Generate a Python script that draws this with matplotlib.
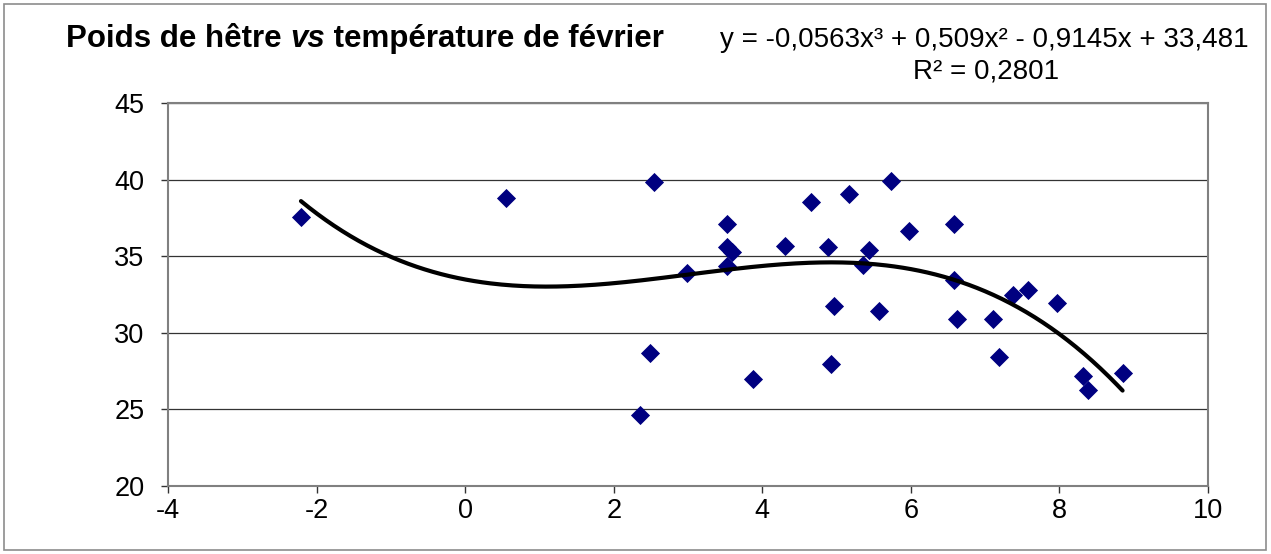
import numpy as np
import matplotlib.pyplot as plt
from matplotlib.patches import Rectangle

plt.rcParams['font.family'] = ['Liberation Sans', 'DejaVu Sans']

# February temperature vs beech weight
temp = [-2.21, 0.55, 2.54, 3.53, 3.53, 3.59, 3.53, 2.98, 4.31, 4.65, 5.17,
        5.73, 4.88, 5.44, 5.36, 5.98, 4.97, 5.57, 2.49, 4.93, 3.88, 2.35,
        6.58, 6.58, 6.62, 7.11, 7.37, 7.58, 7.97, 7.19, 8.32, 8.38, 8.85]
poids = [37.53, 38.81, 39.83, 37.13, 35.61, 35.26, 34.37, 33.89, 35.64, 38.53, 39.05,
         39.90, 35.59, 35.39, 34.44, 36.63, 31.76, 31.44, 28.66, 27.98, 27.00, 24.65,
         37.11, 33.44, 30.91, 30.89, 32.44, 32.77, 31.94, 28.41, 27.16, 26.28, 27.37]

# polynomial trend (order 3) as given on the chart
coefs = [-0.0563, 0.509, -0.9145, 33.481]
r2 = 0.2801

W, H = 1271, 554
fig = plt.figure(figsize=(W / 100, H / 100), dpi=100)
ax = fig.add_axes([168 / W, 1 - 486 / H, (1208 - 168) / W, (486 - 103) / H])

# outer chart border
fig.patches.append(Rectangle((4 / W, 4 / H), 1262 / W, 546 / H,
                             transform=fig.transFigure, fill=False,
                             edgecolor='#8c8c8c', linewidth=1.2))

ax.set_axisbelow(True)
ax.grid(axis='y', color='#333333', linewidth=0.9)

ax.scatter(temp, poids, marker='D', s=95, color='#000080', zorder=3, linewidths=0)

xs = np.linspace(min(temp), max(temp), 300)
ax.plot(xs, np.polyval(coefs, xs), color='black', linewidth=3.0,
        solid_capstyle='round', zorder=4)

ax.set_xlim(-4, 10)
ax.set_ylim(20, 45)
ax.set_xticks(range(-4, 11, 2))
ax.set_yticks(range(20, 46, 5))
ax.set_xticklabels([str(v) for v in range(-4, 11, 2)])
ax.tick_params(labelsize=19.5, length=5, width=1, color='#333333')
ax.tick_params(axis='x', pad=3.5)
ax.tick_params(axis='y', pad=12)
for s in ax.spines.values():
    s.set_color('#808080')
    s.set_linewidth(1.5)

# title with italic "vs"
t1 = fig.text(66 / W, 1 - 47 / H, 'Poids de hêtre ', fontsize=22.5,
              fontweight='bold', va='baseline', ha='left')
t2 = ax.annotate('vs', xy=(1, 0), xycoords=t1, fontsize=22.5, fontweight='bold',
                 style='italic', va='bottom', ha='left', annotation_clip=False)
t3 = ax.annotate(' température de février', xy=(1, 0), xycoords=t2, fontsize=22.5,
                 fontweight='bold', va='bottom', ha='left', annotation_clip=False)

fig.text(984 / W, 1 - 40 / H, 'y = -0,0563x³ + 0,509x² - 0,9145x + 33,481',
         fontsize=20, ha='center', va='center')
fig.text(986 / W, 1 - 72 / H, 'R² = %s' % str(r2).replace('.', ','),
         fontsize=20, ha='center', va='center')

fig.savefig('out.png', dpi=100)
